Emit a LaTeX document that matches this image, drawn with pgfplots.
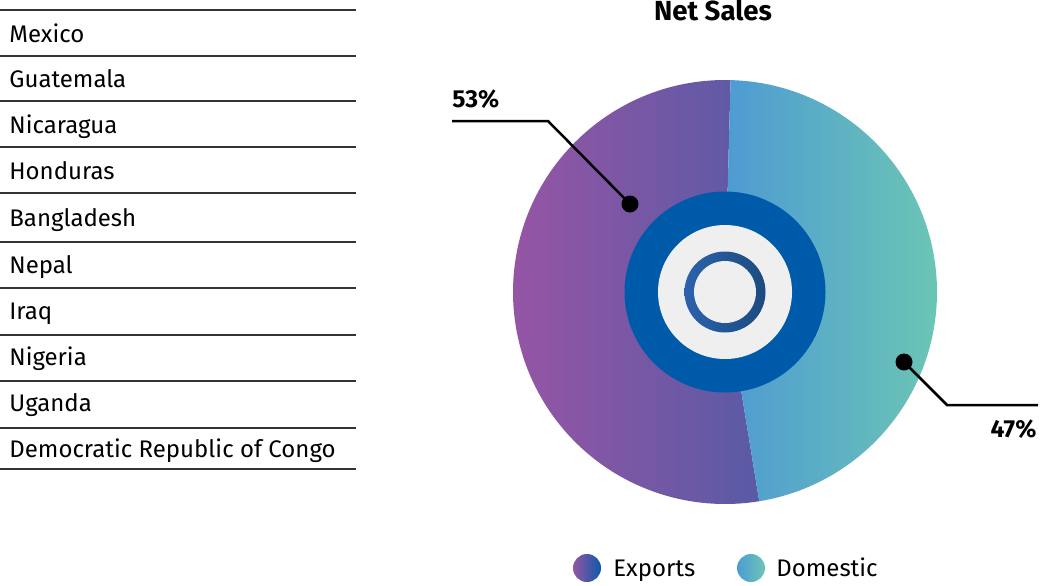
\documentclass[border=0pt]{standalone}
\usepackage{fontspec}
\setmainfont{Fira Sans}
\usepackage{pgfplots}
\usepackage{pgfplotstable}
\pgfplotsset{compat=1.18}

\definecolor{expL}{HTML}{9655A5}
\definecolor{expR}{HTML}{5A5AA5}
\definecolor{domL}{HTML}{4E9BD3}
\definecolor{domR}{HTML}{6CC6B4}
\definecolor{coreblue}{HTML}{005AAA}
\definecolor{coregray}{HTML}{EFEFEF}
\definecolor{ringL}{HTML}{2B62AC}
\definecolor{ringR}{HTML}{1C4B80}
\definecolor{legExpR}{HTML}{0B5AA8}
\definecolor{rulegray}{HTML}{333333}

% net sales split, percent
\pgfplotstableread{
part value
Exports 53
Domestic 47
}\salestable

\begin{document}
\begin{tikzpicture}
\pgfplotstablegetelem{0}{value}\of\salestable \let\expval\pgfplotsretval
\pgfplotstablegetelem{1}{value}\of\salestable \let\domval\pgfplotsretval
\pgfmathsetmacro\expsweep{3.6*\expval}
\pgfmathsetmacro\domsweep{3.6*\domval}
\def\startang{88.5}
\begin{axis}[
    width=521.5pt, height=292.5pt, scale only axis,
    xmin=0, xmax=1043, ymin=0, ymax=585, y dir=reverse,
    hide axis, clip=false,
]
    % country list
    \pgfplotsinvokeforeach{10,56,101,147,193,242,288,335,381,428,469}{
        \draw[rulegray, line width=0.75pt] (axis cs:0,#1) -- (axis cs:356,#1);
    }
    \begin{scope}[every node/.style={anchor=base west, inner sep=0pt, font=\fontsize{12}{14}\selectfont}]
        \node at (axis cs:9,42)  {Mexico};
        \node at (axis cs:9,87)  {Guatemala};
        \node at (axis cs:9,133) {Nicaragua};
        \node at (axis cs:9,179) {Honduras};
        \node at (axis cs:9,226) {Bangladesh};
        \node at (axis cs:9,273) {Nepal};
        \node at (axis cs:9,319) {Iraq};
        \node at (axis cs:9,365) {Nigeria};
        \node at (axis cs:9,411) {Uganda};
        \node at (axis cs:9,457) {Democratic Republic of Congo};
    \end{scope}

    % pie
    \shade[left color=expL, right color=expR]
        (axis cs:725,292) -- ++(\startang:106pt)
        arc[start angle=\startang, delta angle=\expsweep, radius=106pt] -- cycle;
    \shade[left color=domL, right color=domR]
        (axis cs:725,292) -- ++(\startang:106pt)
        arc[start angle=\startang, delta angle=-\domsweep, radius=106pt] -- cycle;
    \fill[coreblue] (axis cs:725,292) circle[radius=50.25pt];
    \fill[coregray] (axis cs:725,292) circle[radius=33.5pt];
    \shade[left color=ringL, right color=ringR] (axis cs:725,292) circle[radius=20.25pt];
    \fill[coregray] (axis cs:725,292) circle[radius=15.5pt];

    % callouts
    \draw[line width=1.25pt] (axis cs:452,121) -- (axis cs:548,121) -- (axis cs:630,204);
    \fill (axis cs:630,204) circle[radius=4.25pt];
    \draw[line width=1.25pt] (axis cs:904,362) -- (axis cs:947,405) -- (axis cs:1038,405);
    \fill (axis cs:904,362) circle[radius=4.25pt];
    \node[anchor=base west, inner sep=0pt, font=\bfseries\fontsize{12.3}{14}\selectfont]
        at (axis cs:452,107) {\expval\%};
    \node[anchor=base east, inner sep=0pt, font=\bfseries\fontsize{12.3}{14}\selectfont]
        at (axis cs:1037,437) {\domval\%};

    % title
    \node[anchor=base, inner sep=0pt, font=\bfseries\fontsize{13.8}{16}\selectfont]
        at (axis cs:713,20) {Net Sales};

    % legend
    \shade[left color=expL, right color=legExpR] (axis cs:587,568) circle[radius=7pt];
    \node[anchor=base west, inner sep=0pt, font=\fontsize{12}{14}\selectfont]
        at (axis cs:613,576) {Exports};
    \shade[left color=domL, right color=domR] (axis cs:751,568) circle[radius=7pt];
    \node[anchor=base west, inner sep=0pt, font=\fontsize{12}{14}\selectfont]
        at (axis cs:776,576) {Domestic};
\end{axis}
\pgfresetboundingbox
\path (0,0) rectangle (521.5pt,292.5pt);
\end{tikzpicture}
\end{document}
